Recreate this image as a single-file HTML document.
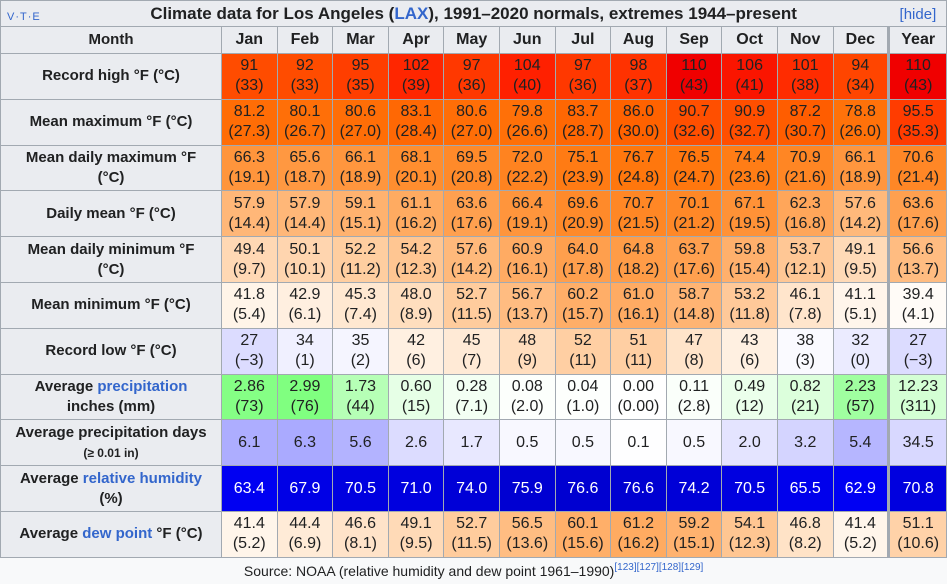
<!DOCTYPE html>
<html><head><meta charset="utf-8">
<style>
html,body{margin:0;padding:0;background:#f8f9fa;}
body{width:947px;height:584px;overflow:hidden;font-family:"Liberation Sans",Arial,sans-serif;color:#202122;}
table{border-collapse:collapse;table-layout:fixed;width:947px;font-size:16px;}
td,th{border:1px solid #a2a9b1;padding:0;text-align:center;line-height:20px;}
th{background:#eaecf0;font-weight:bold;font-size:15px;}
.cap{height:25px;background:#eaecf0;font-size:17px;position:relative;border-bottom:none}
.vte{position:absolute;left:6px;top:6px;font-size:11px;font-weight:normal;color:#3366cc;letter-spacing:1px}
.hide{position:absolute;right:10px;top:4px;font-size:15px;font-weight:normal;color:#3366cc}
a{color:#3366cc;text-decoration:none}
.yr{border-left:3px solid #a2a9b1}
.src{text-align:center;font-size:14px;height:24px;line-height:26px;border:none;background:#f8f9fa}
sup{font-size:10px;color:#3366cc;vertical-align:6px;line-height:0}
</style></head><body>
<table id="tbl">
<colgroup><col style="width:221px"><col span="12" style="width:55.6px"><col style="width:58px"></colgroup>
<tr><th colspan="14" class="cap">
<span class="vte">V·T·E</span>
Climate data for Los Angeles (<a>LAX</a>), 1991–2020 normals, extremes 1944–present
<span class="hide">[<a>hide</a>]</span></th></tr>
<tr id="hdr" style="height:27px"></tr>
</table>
<script>
const months=["Jan","Feb","Mar","Apr","May","Jun","Jul","Aug","Sep","Oct","Nov","Dec","Year"];
const recHighF=["91","92","95","102","97","104","97","98","110","106","101","94","110"];
const recHighC=["33","33","35","39","36","40","36","37","43","41","38","34","43"];
const meanMaxF=["81.2","80.1","80.6","83.1","80.6","79.8","83.7","86.0","90.7","90.9","87.2","78.8","95.5"];
const meanMaxC=["27.3","26.7","27.0","28.4","27.0","26.6","28.7","30.0","32.6","32.7","30.7","26.0","35.3"];
const dMaxF=["66.3","65.6","66.1","68.1","69.5","72.0","75.1","76.7","76.5","74.4","70.9","66.1","70.6"];
const dMaxC=["19.1","18.7","18.9","20.1","20.8","22.2","23.9","24.8","24.7","23.6","21.6","18.9","21.4"];
const dMeanF=["57.9","57.9","59.1","61.1","63.6","66.4","69.6","70.7","70.1","67.1","62.3","57.6","63.6"];
const dMeanC=["14.4","14.4","15.1","16.2","17.6","19.1","20.9","21.5","21.2","19.5","16.8","14.2","17.6"];
const dMinF=["49.4","50.1","52.2","54.2","57.6","60.9","64.0","64.8","63.7","59.8","53.7","49.1","56.6"];
const dMinC=["9.7","10.1","11.2","12.3","14.2","16.1","17.8","18.2","17.6","15.4","12.1","9.5","13.7"];
const meanMinF=["41.8","42.9","45.3","48.0","52.7","56.7","60.2","61.0","58.7","53.2","46.1","41.1","39.4"];
const meanMinC=["5.4","6.1","7.4","8.9","11.5","13.7","15.7","16.1","14.8","11.8","7.8","5.1","4.1"];
const recLowF=["27","34","35","42","45","48","52","51","47","43","38","32","27"];
const recLowC=["−3","1","2","6","7","9","11","11","8","6","3","0","−3"];
const precIn=["2.86","2.99","1.73","0.60","0.28","0.08","0.04","0.00","0.11","0.49","0.82","2.23","12.23"];
const precMm=["73","76","44","15","7.1","2.0","1.0","0.00","2.8","12","21","57","311"];
const precDays=["6.1","6.3","5.6","2.6","1.7","0.5","0.5","0.1","0.5","2.0","3.2","5.4","34.5"];
const humidity=["63.4","67.9","70.5","71.0","74.0","75.9","76.6","76.6","74.2","70.5","65.5","62.9","70.8"];
const dewF=["41.4","44.4","46.6","49.1","52.7","56.5","60.1","61.2","59.2","54.1","46.8","41.4","51.1"];
const dewC=["5.2","6.9","8.1","9.5","11.5","13.6","15.6","16.2","15.1","12.3","8.2","5.2","10.6"];

function num(s){return parseFloat(String(s).replace("−","-"));}
function tempColor(c){
  if(c<4){const g=Math.round(255-(4-c)*5);return `rgb(${Math.max(200,g)},${Math.max(200,g)},255)`;}
  const stops=[[4,255,252,248],[8,255,228,202],[12,255,200,150],[16,255,172,100],[20,255,142,48],[25,255,118,12],[30,255,98,0],[35,255,62,0],[40,255,32,0],[43,240,0,0]];
  if(c>=43)return "rgb(240,0,0)";
  for(let i=0;i<stops.length-1;i++){const a=stops[i],b=stops[i+1];if(c>=a[0]&&c<=b[0]){const t=(c-a[0])/(b[0]-a[0]);
    return `rgb(${Math.round(a[1]+(b[1]-a[1])*t)},${Math.round(a[2]+(b[2]-a[2])*t)},${Math.round(a[3]+(b[3]-a[3])*t)})`;}}
  return "#fff";
}
function precColor(mm){const v=Math.max(128,Math.round(255-mm*1.67));return `rgb(${v},255,${v})`;}
function dayColor(d){const v=Math.max(150,Math.round(255-d*13.5));return `rgb(${v},${v},255)`;}
function humColor(h){return `rgb(0,0,${Math.round(200+(80-h)*2.5)})`;}

const tbl=document.getElementById('tbl');
const hdr=document.getElementById('hdr');
const th0=document.createElement('th');th0.textContent="Month";


hdr.appendChild(th0);
months.forEach((m,i)=>{const th=document.createElement('th');th.textContent=m;if(i==12)th.className='yr';
th.style.fontSize='16px';


hdr.appendChild(th);});

function addRow(name,label,top,bot,colorFn,white){
  const tr=document.createElement('tr');tr.style.height='45.8px';
  
  
  const th=document.createElement('th');th.innerHTML=label;
  
  
  tr.appendChild(th);
  top.forEach((v,i)=>{const td=document.createElement('td');
    td.innerHTML=bot?`${v}<br>(${bot[i]})`:v;
    td.style.background=colorFn(i);
    if(white)td.style.color='#fff';
    if(i==12)td.className='yr';
    
    
    tr.appendChild(td);});
  tbl.appendChild(tr);
}
addRow('record-high','Record high °F (°C)',recHighF,recHighC,i=>tempColor(num(recHighC[i])));
addRow('mean-maximum','Mean maximum °F (°C)',meanMaxF,meanMaxC,i=>tempColor(num(meanMaxC[i])));
addRow('mean-daily-max','Mean daily maximum °F<br>(°C)',dMaxF,dMaxC,i=>tempColor(num(dMaxC[i])));
addRow('daily-mean','Daily mean °F (°C)',dMeanF,dMeanC,i=>tempColor(num(dMeanC[i])));
addRow('mean-daily-min','Mean daily minimum °F<br>(°C)',dMinF,dMinC,i=>tempColor(num(dMinC[i])));
addRow('mean-minimum','Mean minimum °F (°C)',meanMinF,meanMinC,i=>tempColor(num(meanMinC[i])));
addRow('record-low','Record low °F (°C)',recLowF,recLowC,i=>tempColor(num(recLowC[i])));
addRow('precipitation','Average <a>precipitation</a><br>inches (mm)',precIn,precMm,i=>precColor(num(precMm[i])/(i==12?12:1)));
addRow('precip-days','Average precipitation days<br><span style="font-size:12px">(≥ 0.01 in)</span>',precDays,null,i=>dayColor(num(precDays[i])/(i==12?12:1)));
addRow('humidity','Average <a>relative humidity</a><br>(%)',humidity,null,i=>humColor(num(humidity[i])),true);
addRow('dew-point','Average <a>dew point</a> °F (°C)',dewF,dewC,i=>tempColor(num(dewC[i])));
const tr=document.createElement('tr');


const td=document.createElement('td');td.colSpan=14;td.className='src';
td.innerHTML='Source: NOAA (relative humidity and dew point 1961–1990)<sup>[123][127][128][129]</sup>';


tr.appendChild(td);tbl.appendChild(tr);
</script>
</body></html>
